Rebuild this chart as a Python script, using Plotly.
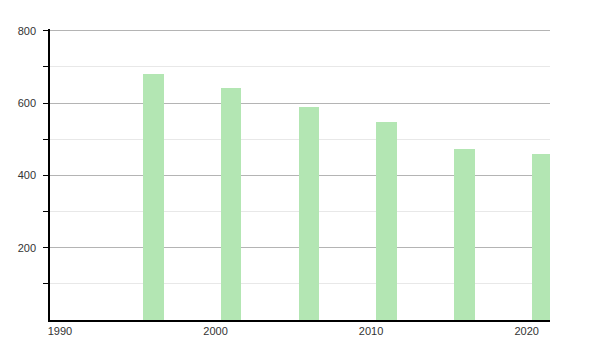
import plotly.graph_objects as go

years = [1996, 2001, 2006, 2011, 2016, 2021]
values = [680, 642, 590, 548, 473, 459]
x_ticks = [1990, 2000, 2010, 2020]
y_ticks = [200, 400, 600, 800]
y_minor = [100, 300, 500, 700]

fig = go.Figure()
fig.add_trace(go.Bar(
    x=years, y=values, width=1.33,
    marker=dict(color="#b3e6b3", line=dict(width=0)),
    hoverinfo="x+y",
))

fig.update_layout(
    width=600, height=350,
    margin=dict(l=50, r=50, t=29, b=30),
    paper_bgcolor="white", plot_bgcolor="white",
    showlegend=False,
    font=dict(family="Liberation Sans, Arial, sans-serif", size=11, color="#333"),
    bargap=0,
)
fig.update_xaxes(
    range=[1989.36, 2021.5],
    tickmode="array", tickvals=x_ticks, ticktext=[str(v) for v in x_ticks],
    showline=True, linecolor="black", linewidth=1.5,
    showgrid=False, zeroline=False, ticks="", ticklen=0,
)
fig.update_yaxes(
    range=[0, 805],
    tickmode="array", tickvals=y_ticks, ticktext=[str(v) for v in y_ticks],
    showline=True, linecolor="black", linewidth=1.5,
    showgrid=True, gridcolor="#b4b4b4", gridwidth=1,
    zeroline=False, ticks="outside", ticklen=5, tickcolor="black",
    ticklabelstandoff=5,
    minor=dict(tickmode="array", tickvals=y_minor, ticks="outside", ticklen=5,
               tickcolor="black", showgrid=True, gridcolor="#e8e8e8", gridwidth=1),
)

fig.write_html("out.html")
